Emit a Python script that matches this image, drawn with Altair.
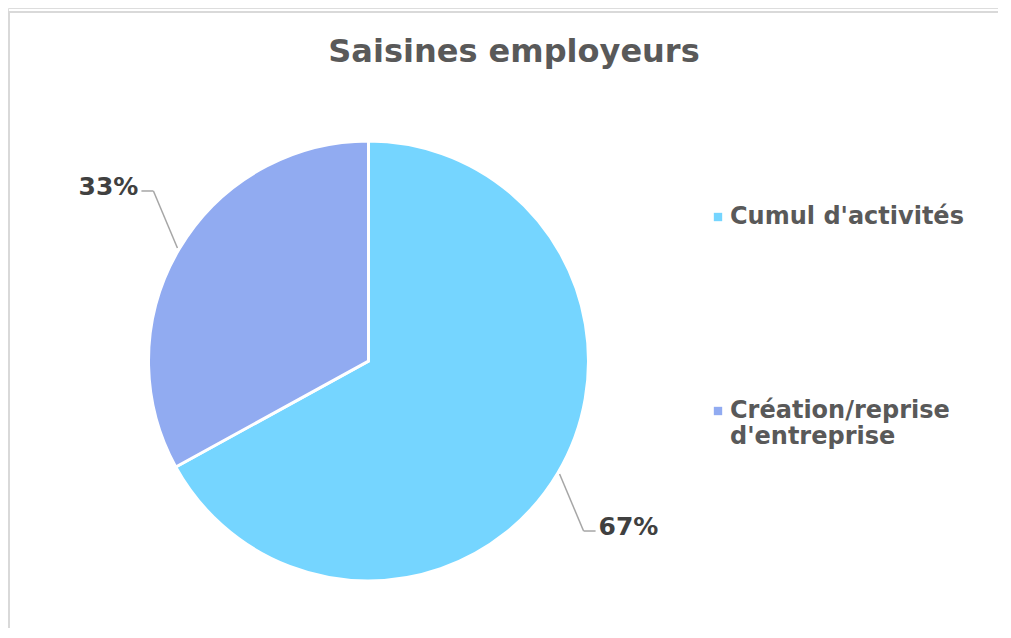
import altair as alt
import pandas as pd

categories = ["Cumul d'activités", "Création/reprise d'entreprise"]
values = [67, 33]
orders = [0, 1]
colors = ["#75D5FF", "#91ABF1"]

df = pd.DataFrame({"categorie": categories, "valeur": values, "ordre": orders})

W, H = 990, 620
CX, CY, R = 360.5, 353, 220

base = alt.Chart(df)

pie = base.mark_arc(x=CX, y=CY, outerRadius=R, stroke="white", strokeWidth=3).encode(
    theta=alt.Theta("valeur:Q", stack=True),
    order=alt.Order("ordre:Q"),
    color=alt.Color(
        "categorie:N",
        scale=alt.Scale(domain=categories, range=colors),
        sort=categories,
        legend=alt.Legend(
            title=None,
            orient="none",
            legendX=698,
            legendY=197,
            symbolType="square",
            symbolSize=70,
            symbolStrokeWidth=0,
            labelFont="DejaVu Sans",
            labelFontWeight="bold",
            labelFontSize=24,
            labelColor="#595959",
            labelLimit=400,
            rowPadding=170,
            labelOffset=0,
            labelExpr="datum.label == \"Création/reprise d'entreprise\" ? ['Création/reprise', \"d'entreprise\"] : datum.label",
        ),
    ),
)

geo = base.transform_joinaggregate(total="sum(valeur)").transform_window(
    cum="sum(valeur)", sort=[alt.SortField("ordre")]
).transform_calculate(
    mid="((datum.cum - datum.valeur / 2) / datum.total) * 2 * PI",
).transform_calculate(
    sx="sin(datum.mid) >= 0 ? 1 : -1",
    sc="cos(datum.mid) >= 0 ? 1 : -1",
    ex=f"{CX} + {R + 2} * sin(datum.mid)",
    ey=f"{CY} - {R + 2} * cos(datum.mid)",
).transform_calculate(
    bx="datum.ex + datum.sx * 24",
    by="datum.ey - datum.sc * 57",
).transform_calculate(
    hx="datum.bx + datum.sx * 12",
    tx="datum.bx + datum.sx * 15",
    ty="datum.ey - datum.sc * 57 - 4",
    lab="format(datum.valeur / datum.total, '.0%')",
)

lead1 = geo.mark_rule(color="#A6A6A6", strokeWidth=1.5).encode(
    x=alt.X("ex:Q", scale=None), y=alt.Y("ey:Q", scale=None),
    x2="bx:Q", y2="by:Q",
)
lead2 = geo.mark_rule(color="#A6A6A6", strokeWidth=1.5).encode(
    x=alt.X("bx:Q", scale=None), y=alt.Y("by:Q", scale=None),
    x2="hx:Q", y2="by:Q",
)
text_style = dict(font="DejaVu Sans", fontWeight="bold", fontSize=25, color="#404040", baseline="middle")
labels_right = geo.transform_filter("datum.sx > 0").mark_text(align="left", **text_style).encode(
    x=alt.X("tx:Q", scale=None), y=alt.Y("ty:Q", scale=None), text="lab:N",
)
labels_left = geo.transform_filter("datum.sx < 0").mark_text(align="right", **text_style).encode(
    x=alt.X("tx:Q", scale=None), y=alt.Y("ty:Q", scale=None), text="lab:N",
)

frame_top = alt.Chart(pd.DataFrame({"a": [0]})).mark_rule(color="#D9D9D9", strokeWidth=2).encode(
    x=alt.value(0), x2=alt.value(W + 20), y=alt.value(4)
)
frame_left = alt.Chart(pd.DataFrame({"a": [0]})).mark_rule(color="#D9D9D9", strokeWidth=2).encode(
    x=alt.value(1), y=alt.value(4), y2=alt.value(H + 20)
)

chart = alt.layer(frame_top, frame_left, pie, lead1, lead2, labels_right, labels_left).properties(
    width=W,
    height=H,
    autosize=alt.AutoSizeParams(type="none"),
    padding=0,
    title=alt.Title(
        "Saisines employeurs",
        font="DejaVu Sans",
        fontWeight="bold",
        fontSize=32,
        color="#595959",
        anchor="middle",
        baseline="alphabetic",
        dx=11,
        dy=90,
    ),
).configure_view(stroke=None).configure(background="white")

chart.save("out.html", embed_options={"renderer": "svg", "actions": False})
